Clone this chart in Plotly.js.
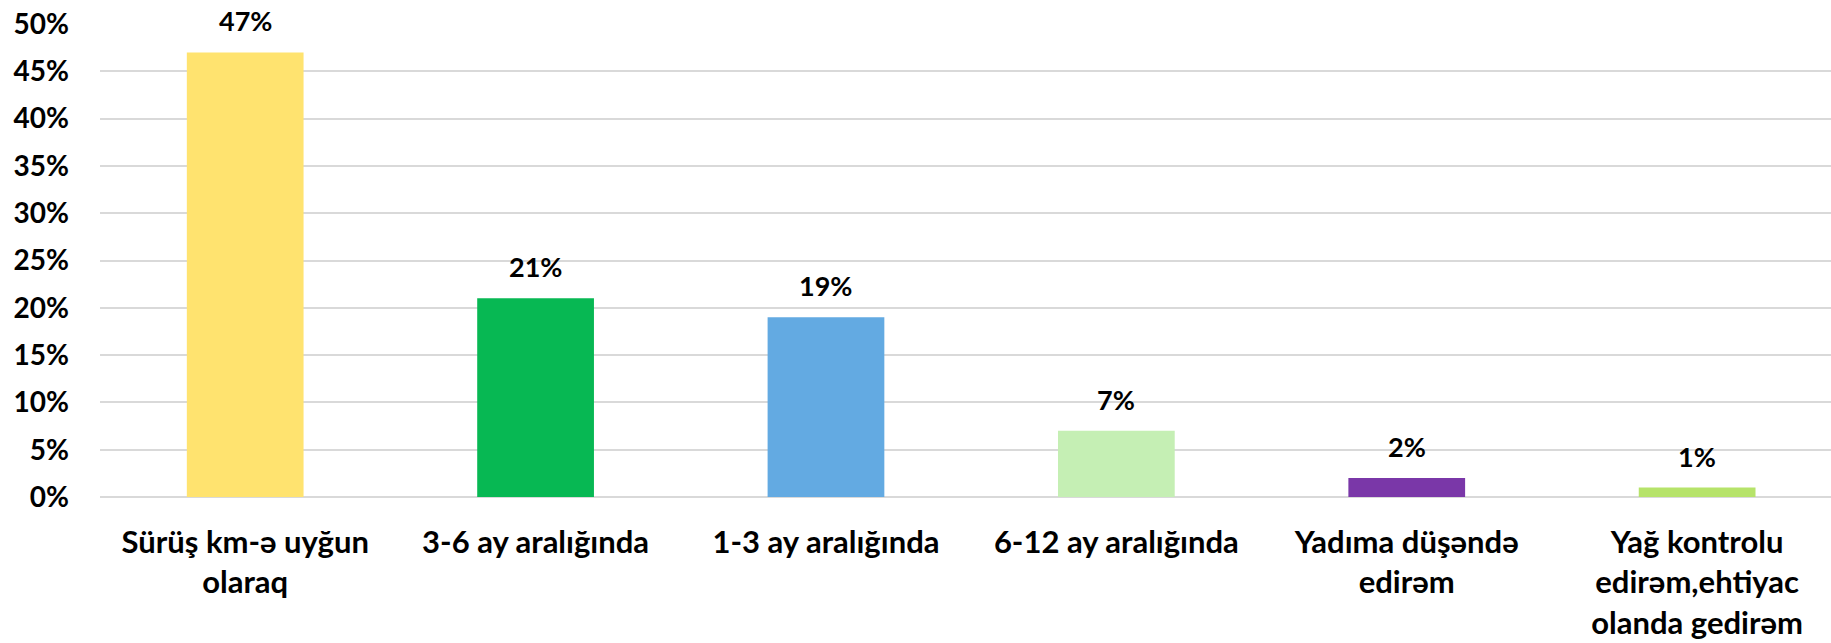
<!DOCTYPE html>
<html>
<head>
<meta charset="utf-8">
<script src="https://cdn.plot.ly/plotly-3.0.1.min.js"></script>
<style>
  html, body { margin: 0; padding: 0; background: #ffffff; }
  #chart { width: 1831px; height: 643px; }
</style>
</head>
<body>
<div id="chart"></div>
<script>
const categories = [
  "Sürüş km-ə uyğun<br>olaraq",
  "3-6 ay aralığında",
  "1-3 ay aralığında",
  "6-12 ay aralığında",
  "Yadıma düşəndə<br>edirəm",
  "Yağ kontrolu<br>edirəm,ehtiyac<br>olanda gedirəm"
];
const values = [0.47, 0.21, 0.19, 0.07, 0.02, 0.01];
const barColors = ["#FFE36F", "#07B853", "#63AAE2", "#C5EFB4", "#7A37A8", "#B6E36A"];
const yTickValues = [0, 0.05, 0.10, 0.15, 0.20, 0.25, 0.30, 0.35, 0.40, 0.45, 0.50];

const fontFamily = "Lato, 'Open Sans', sans-serif";

const trace = {
  type: "bar",
  x: categories,
  y: values,
  width: 0.402,
  marker: { color: barColors, line: { width: 0 } },
  hoverinfo: "skip",
  showlegend: false
};

const annotations = categories.map((c, i) => ({
  x: c,
  y: values[i],
  xref: "x",
  yref: "y",
  text: Math.round(values[i] * 100) + "%",
  showarrow: false,
  yanchor: "bottom",
  yshift: 13,
  font: { family: fontFamily, size: 27, color: "#000000", weight: "bold" }
}));

const layout = {
  width: 1831,
  height: 643,
  margin: { l: 100, r: 0, t: 24, b: 146 },
  paper_bgcolor: "#ffffff",
  plot_bgcolor: "#ffffff",
  xaxis: {
    type: "category",
    range: [-0.5, 5.461],
    showgrid: false,
    zeroline: false,
    showline: false,
    ticks: "",
    ticklabelstandoff: 24,
    tickfont: { family: fontFamily, size: 31, color: "#000000", weight: "bold" }
  },
  yaxis: {
    range: [0, 0.5],
    tickvals: yTickValues,
    tickformat: ".0%",
    showgrid: true,
    gridcolor: "#D9D9D9",
    gridwidth: 2,
    zeroline: true,
    zerolinecolor: "#D9D9D9",
    zerolinewidth: 2,
    showline: false,
    ticks: "",
    ticklabelstandoff: 30,
    tickfont: { family: fontFamily, size: 28, color: "#000000", weight: "bold" }
  },
  annotations: annotations
};

Plotly.newPlot("chart", [trace], layout, { staticPlot: true, displayModeBar: false });
</script>
</body>
</html>
